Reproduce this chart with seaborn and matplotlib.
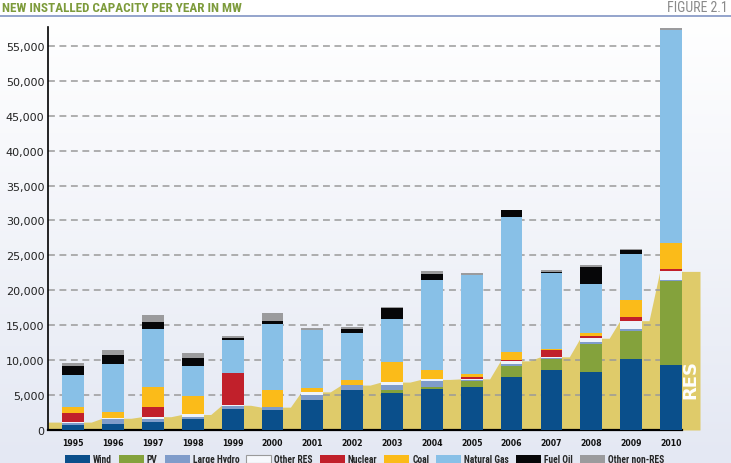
import numpy as np
import pandas as pd
import seaborn as sns
import matplotlib.pyplot as plt
from matplotlib import font_manager
from matplotlib.colors import LinearSegmentedColormap
from matplotlib.lines import Line2D
from matplotlib.patches import Patch

# new installed capacity per year, MW
years = list(range(1995, 2011))
wind = [680, 820, 1130, 1540, 3000, 2860, 4360, 5720, 5330, 5860, 6190, 7600, 8530, 8240, 10210, 9270]
pv = [0, 0, 0, 0, 0, 0, 0, 0, 330, 330, 810, 1590, 1680, 4090, 4010, 12050]
large_hydro = [310, 720, 505, 370, 370, 410, 680, 710, 770, 850, 100, 330, 140, 310, 180, 140]
other_res = [140, 140, 270, 310, 170, 0, 420, 0, 430, 200, 220, 380, 130, 500, 1250, 1250]
nuclear = [1320, 0, 1360, 0, 4550, 0, 0, 0, 0, 0, 280, 180, 1040, 320, 550, 270]
coal = [820, 950, 2960, 2680, 0, 2390, 530, 710, 2900, 1290, 380, 1040, 130, 490, 2400, 3830]
natural_gas = [4630, 6840, 8170, 4290, 4780, 9560, 8270, 6760, 6110, 12910, 14150, 19430, 10850, 6910, 6540, 30490]
fuel_oil = [1300, 1290, 1060, 1140, 270, 380, 0, 580, 1650, 830, 0, 970, 190, 2480, 690, 0]
other_non_res = [420, 700, 970, 670, 270, 1110, 370, 280, 140, 430, 280, 0, 270, 280, 140, 300]

labels = ["Wind", "PV", "Large Hydro", "Other RES", "Nuclear", "Coal",
          "Natural Gas", "Fuel Oil", "Other non-RES"]
colors = ["#0a4f8b", "#84a23c", "#7f9cca", "#eef3fa", "#c1202b", "#fbbb19",
          "#88c0e7", "#060608", "#9b9b9d"]
res_labels = ["Wind", "PV", "Large Hydro", "Other RES"]

df = pd.DataFrame(
    dict(zip(labels, [wind, pv, large_hydro, other_res, nuclear, coal,
                      natural_gas, fuel_oil, other_non_res])),
    index=years,
)
cum = df.cumsum(axis=1)
res_total = df[res_labels].sum(axis=1).values

sns.set_style("white")
plt.rcParams["font.family"] = ["DejaVu Sans"]

# pick a narrow face for the title strip and legend if one is installed
entries = font_manager.fontManager.ttflist
names = {f.name for f in entries}
NARROW, STRETCH = None, "normal"
for cand in ["Liberation Sans Narrow", "DejaVu Sans Condensed", "Roboto Condensed",
             "Open Sans Condensed", "Noto Sans Condensed"]:
    if cand in names:
        NARROW = cand
        break
if NARROW is None:
    cond = [f for f in entries if str(f.stretch) in ("condensed", "semi-condensed")]
    if cond:
        NARROW, STRETCH = cond[0].name, str(cond[0].stretch)
    else:
        NARROW = "Liberation Sans"

fig = plt.figure(figsize=(7.31, 4.64), dpi=100)
renderer = fig.canvas.get_renderer()


def fit_size(text, width_px, size=10, weight="normal"):
    t = fig.text(0, 0, text, fontsize=size, fontweight=weight,
                 family=[NARROW, "DejaVu Sans"], fontstretch=STRETCH)
    w = t.get_window_extent(renderer).width
    t.remove()
    return size * width_px / w


# background gradient
bg = fig.add_axes([0, 0, 1, 1], zorder=-10)
ys = np.arange(464)
grad = np.clip((ys - 17) / (464 - 17), 0, 1)[:, None]
cmap = LinearSegmentedColormap.from_list("bg", ["#ffffff", "#e4e8f3"])
bg.imshow(grad, cmap=cmap, aspect="auto", extent=[0, 1, 0, 1], origin="upper")
bg.axis("off")

ax = fig.add_axes([48 / 731, 33 / 464, 652 / 731, 403 / 464])
ax.set_facecolor("none")

# RES area behind the bars
x_left, x_right = -0.635, 15.73
area_x = [x_left]
area_y = [res_total[0]]
for i in range(1, len(years)):
    area_x += [i - 0.55, i - 0.28]
    area_y += [res_total[i - 1], res_total[i]]
area_x.append(x_right)
area_y.append(res_total[-1])
ax.fill_between(area_x, 0, area_y, color="#dfcb6a", lw=0, zorder=1)

# dashed grid
yticks = list(range(5000, 55001, 5000))
ax.hlines(yticks, x_left, 15 - 0.28, colors="#9a9a9a", linestyles=(0, (4.5, 3)),
          lw=1.1, zorder=2)

# stacked bars: cumulative totals drawn from the top layer down
xcat = [str(y) for y in years]
for name, color in reversed(list(zip(labels, colors))):
    sns.barplot(x=xcat, y=cum[name].values, color=color, saturation=1,
                width=0.545, linewidth=0, errorbar=None, ax=ax, zorder=3)

ax.text(15.5, 7400, "RES", rotation=90, color="white", fontsize=13,
        fontweight="bold", ha="center", va="center", zorder=4,
        family=["DejaVu Sans"])

ax.set_xlim(x_left, x_right)
ax.set_ylim(0, 57700)
ax.set_yticks(list(range(0, 55001, 5000)))
ax.set_yticklabels([f"{v:,}" for v in range(0, 55001, 5000)])
ax.tick_params(axis="y", length=0, pad=2.5, labelsize=8, labelcolor="#222222")
ax.tick_params(axis="x", length=0, pad=5.5, labelsize=5.6, labelcolor="#111111")
for lab in ax.get_xticklabels():
    lab.set_fontweight("bold")
ax.set_xlabel("")
ax.set_ylabel("")
for s in ["top", "right"]:
    ax.spines[s].set_visible(False)
ax.spines["left"].set_color("black")
ax.spines["left"].set_linewidth(1.2)
ax.spines["bottom"].set_color("black")
ax.spines["bottom"].set_linewidth(1.6)
ax.spines["bottom"].set_bounds(x_left, 15 + 0.275)

# title strip
title = "NEW INSTALLED CAPACITY PER YEAR IN MW"
tsize = min(fit_size(title, 239, weight="bold"), 10)
fig.text(2 / 731, 1 - 8.5 / 464, title, ha="left", va="center", fontsize=tsize,
         fontweight="bold", color="#7d9b3b", family=[NARROW, "DejaVu Sans"],
         fontstretch=STRETCH)
fsize = min(fit_size("FIGURE 2.1", 63), 10)
fig.text(728 / 731, 1 - 8.5 / 464, "FIGURE 2.1", ha="right", va="center",
         fontsize=fsize, color="#8a8a8a", family=[NARROW, "DejaVu Sans"],
         fontstretch=STRETCH)
fig.add_artist(Line2D([0, 1], [1 - 16.7 / 464] * 2, transform=fig.transFigure,
                      color="#8b9dc8", lw=1.3))

# legend
handles = []
for name, color in zip(labels, colors):
    if name == "Other RES":
        handles.append(Patch(facecolor="#f6f8fc", edgecolor="#9a9a9a", lw=0.8))
    else:
        handles.append(Patch(facecolor=color, edgecolor="none"))
lsize = min(fit_size("  ".join(labels), 286 + 8 * 2 * 2.5, weight="bold"), 7.5)
lpx = lsize * 100 / 72
fig.legend(handles, labels, loc="center left", bbox_to_anchor=(65 / 731, 1 - 460.5 / 464),
           ncol=9, frameon=False, borderpad=0, borderaxespad=0,
           handlelength=25 / lpx, handleheight=8 / lpx, handletextpad=3 / lpx,
           columnspacing=7 / lpx,
           prop={"family": [NARROW, "DejaVu Sans"], "weight": "bold", "size": lsize,
                 "stretch": STRETCH})

fig.savefig("out.png", dpi=100)
